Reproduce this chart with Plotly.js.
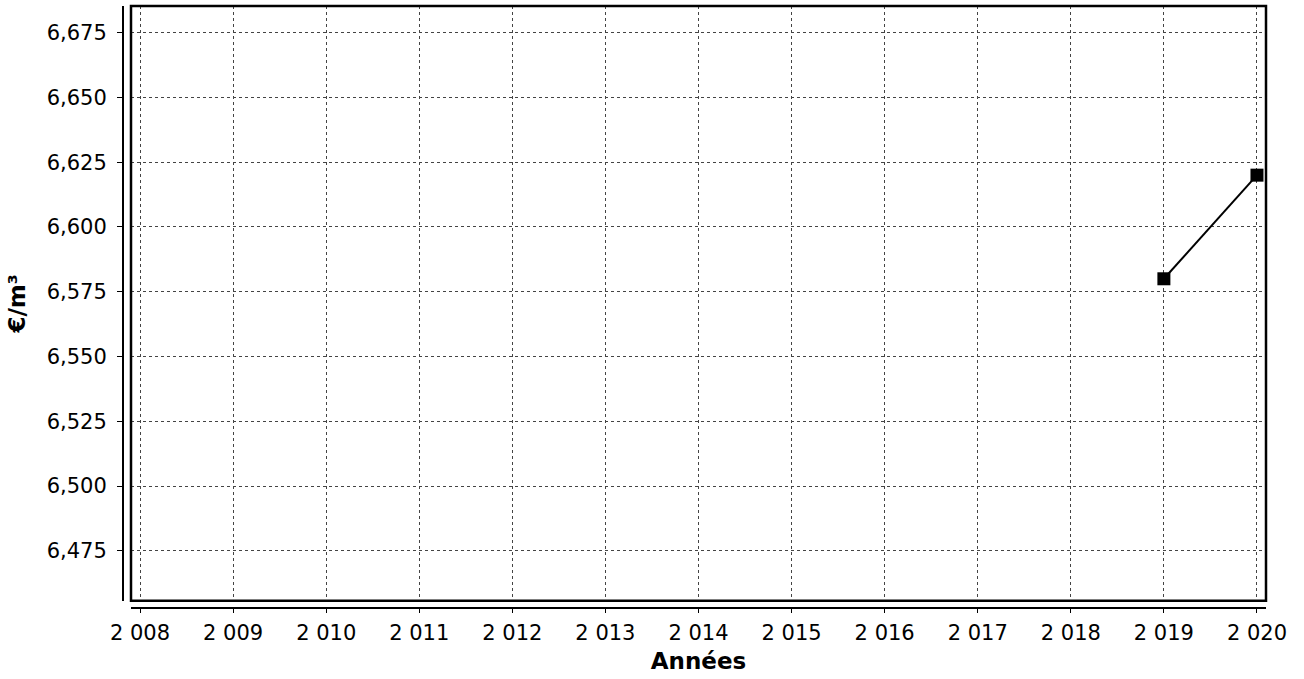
<!DOCTYPE html>
<html><head><meta charset="utf-8">
<script src="https://cdn.plot.ly/plotly-3.0.1.min.js"></script>
<style>html,body{margin:0;padding:0;background:#fff}#c{width:1304px;height:679px}</style>
</head><body><div id="c"></div>
<script>
const years = [2019, 2020];
const prices = [6.58, 6.62];
const xTickVals = [2008,2009,2010,2011,2012,2013,2014,2015,2016,2017,2018,2019,2020];
const xTickLabels = ["2 008","2 009","2 010","2 011","2 012","2 013","2 014","2 015","2 016","2 017","2 018","2 019","2 020"];
const yTickVals = [6.475,6.5,6.525,6.55,6.575,6.6,6.625,6.65,6.675];

const font = {family: "DejaVu Sans, Verdana, sans-serif", size: 21, color: "#000"};
const trace = {
  x: years, y: prices, type: "scatter", mode: "lines+markers",
  line: {color: "#000", width: 2},
  marker: {symbol: "square", size: 13, color: "#000"},
  cliponaxis: false, showlegend: false
};
const layout = {
  width: 1304, height: 679,
  margin: {l: 123, r: 38, t: 6, b: 71},
  paper_bgcolor: "#fff", plot_bgcolor: "#fff",
  separators: ", ",
  font: font,
  xaxis: {
    domain: [0.007, 1], anchor: "free", position: 0,
    range: [2007.903, 2020.097],
    tickvals: xTickVals, ticktext: xTickLabels,
    showgrid: true, gridcolor: "#444", griddash: "dot", gridwidth: 1,
    showline: true, linecolor: "#000", linewidth: 2,
    ticks: "outside", ticklen: 4, tickcolor: "#000",
    tickfont: font, zeroline: false, ticklabelstandoff: 2,
    title: {text: "Années", font: {family: font.family, size: 23, color: "#000", weight: "bold"}, standoff: 8}
  },
  yaxis: {
    domain: [0.012, 1], anchor: "free", position: 0,
    range: [6.4557, 6.6853],
    tickvals: yTickVals, tickformat: ".3f",
    showgrid: true, gridcolor: "#444", griddash: "dot", gridwidth: 1,
    showline: true, linecolor: "#000", linewidth: 2,
    ticks: "outside", ticklen: 5, tickcolor: "#000",
    tickfont: font, zeroline: false, ticklabelstandoff: 6,
    title: {text: "€/m³", font: {family: font.family, size: 23, color: "#000", weight: "bold"}, standoff: 14}
  },
  shapes: [{type: "rect", xref: "x domain", yref: "y domain", x0: 0, x1: 1, y0: 0, y1: 1,
            line: {color: "#000", width: 2.5}, layer: "above"}]
};
Plotly.newPlot("c", [trace], layout, {displayModeBar: false, staticPlot: true});
</script></body></html>
